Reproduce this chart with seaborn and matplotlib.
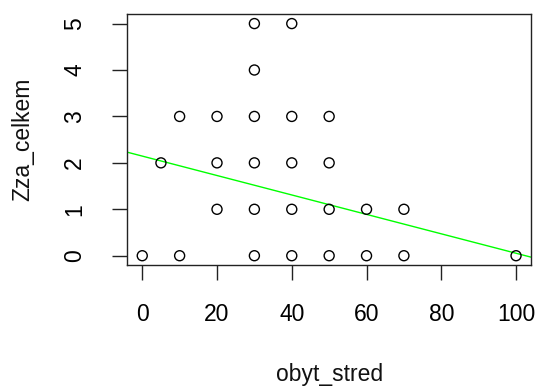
import matplotlib
matplotlib.use("Agg")
import matplotlib.pyplot as plt
import seaborn as sns
import pandas as pd

obyt_stred = [0, 5, 10, 10, 20, 20, 20, 30, 30, 30, 30, 30, 30,
              40, 40, 40, 40, 40, 50, 50, 50, 50, 60, 60, 70, 70, 100]
zza_celkem = [0, 2, 0, 3, 1, 2, 3, 0, 1, 2, 3, 4, 5,
              0, 1, 2, 3, 5, 0, 1, 2, 3, 0, 1, 0, 1, 0]
line_intercept = 2.146
line_slope = -0.02093
x_ticks = [0, 20, 40, 60, 80, 100]
y_ticks = [0, 1, 2, 3, 4, 5]

df = pd.DataFrame({"obyt_stred": obyt_stred, "Zza_celkem": zza_celkem})

sns.set_style("white")
plt.rcParams["font.family"] = ["Liberation Sans", "DejaVu Sans"]

fig = plt.figure(figsize=(5.37, 3.87), dpi=100)
ax = fig.add_axes([127.3 / 537, 1 - 265 / 387, (531 - 127.3) / 537, (265 - 14.3) / 387])

sns.scatterplot(data=df, x="obyt_stred", y="Zza_celkem", ax=ax,
                s=52, facecolor="none", edgecolor="black", linewidth=1.0,
                marker="o", zorder=3)
ax.axline((0, line_intercept), slope=line_slope, color="#00ff00", lw=1.0, zorder=2)

ax.set_xlim(-4, 104)
ax.set_ylim(-0.2, 5.2)
ax.set_xticks(x_ticks)
ax.set_yticks(y_ticks)
ax.set_xticklabels([str(t) for t in x_ticks])
ax.set_yticklabels([str(t) for t in y_ticks], rotation=90, va="center")

for sp in ax.spines.values():
    sp.set_visible(True)
    sp.set_color("#222222")
    sp.set_linewidth(1.0)

ax.tick_params(axis="both", which="major", direction="out", length=10.5,
               width=1.0, color="#222222", labelsize=16.5, labelcolor="black",
               left=True, bottom=True)
ax.tick_params(axis="x", pad=17)
ax.tick_params(axis="y", pad=19)

ax.set_xlabel("obyt_stred", fontsize=16.5, color="#111111", va="center")
ax.set_ylabel("Zza_celkem", fontsize=16.5, color="#111111", va="center")
ax.xaxis.set_label_coords(0.5, (265 - 375) / 250.7)
ax.yaxis.set_label_coords((23 - 127.3) / 403.7, 0.5)

fig.savefig("out.png", dpi=100, facecolor="white")
